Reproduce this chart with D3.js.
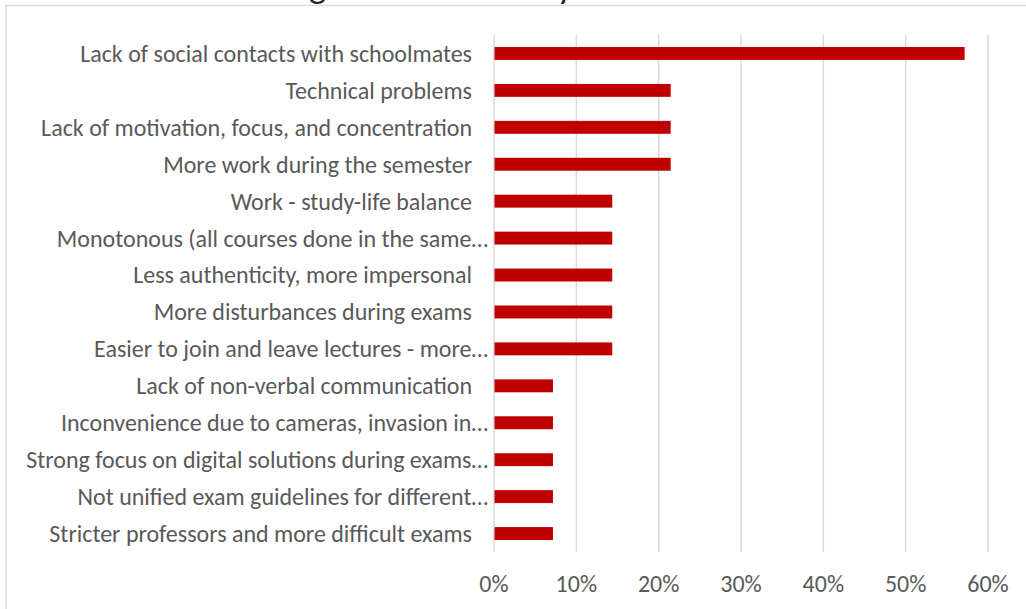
<!DOCTYPE html>
<html lang="en">
<head>
<meta charset="UTF-8">
<title>Disadvantages</title>
<script src="https://cdn.jsdelivr.net/npm/d3@7"></script>
<style>
    body { margin: 0; background: #fff; }
    text { font-family: Calibri, Carlito, Lato, sans-serif; }
</style>
</head>
<body>
<div id="chart"></div>
<script>
var categories = [
    "Lack of social contacts with schoolmates",
    "Technical problems",
    "Lack of motivation, focus, and concentration",
    "More work during the semester",
    "Work - study-life balance",
    "Monotonous (all courses done in the same…",
    "Less authenticity, more impersonal",
    "More disturbances during exams",
    "Easier to join and leave lectures - more…",
    "Lack of non-verbal communication",
    "Inconvenience due to cameras, invasion in…",
    "Strong focus on digital solutions during exams…",
    "Not unified exam guidelines for different…",
    "Stricter professors and more difficult exams"
];
var values = [0.571, 0.214, 0.214, 0.214, 0.143, 0.143, 0.143, 0.143, 0.143, 0.071, 0.071, 0.071, 0.071, 0.071];
var ticks = [0, 0.1, 0.2, 0.3, 0.4, 0.5, 0.6];
var title = "Main drawbacks of online teaching at the university";

var width = 1026, height = 609;
var svg = d3.select("#chart").append("svg")
    .attr("width", width)
    .attr("height", height);

// chart frame (runs off the right and bottom)
svg.append("rect")
    .attr("x", 6).attr("y", 5.5)
    .attr("width", 1040).attr("height", 620)
    .attr("fill", "none")
    .attr("stroke", "#d9d9d9")
    .attr("stroke-width", 1.5);

// title mostly cut off at the top, only descenders show
var t = svg.append("text")
    .attr("y", -2)
    .attr("font-size", 26)
    .attr("fill", "#262626")
    .text(title);
var gi = title.indexOf("teaching") + 7, yi = title.lastIndexOf("y");
var n = t.node();
var gx = n.getStartPositionOfChar(gi).x, yx = n.getStartPositionOfChar(yi).x;
var fs = 26 * 248 / (yx - gx);
t.attr("font-size", fs);
gx = n.getStartPositionOfChar(gi).x;
t.attr("x", 309 - gx);

var x = d3.scaleLinear().domain([0, 0.6]).range([494, 988]);
var y = d3.scaleBand().domain(categories).range([35, 552]).paddingInner(0.65).paddingOuter(0.325);

svg.append("g").selectAll("line")
    .data(ticks)
    .enter().append("line")
    .attr("x1", function(d) { return x(d); })
    .attr("x2", function(d) { return x(d); })
    .attr("y1", 35).attr("y2", 552)
    .attr("stroke", "#d9d9d9")
    .attr("stroke-width", 1.5);

svg.append("g").selectAll("rect")
    .data(values)
    .enter().append("rect")
    .attr("x", x(0) + 0.5)
    .attr("y", function(d, i) { return y(categories[i]); })
    .attr("width", function(d) { return x(d) - x(0); })
    .attr("height", y.bandwidth())
    .attr("fill", "#c00000");

// category labels, sized so the first one spans like the reference
var labels = svg.append("g").selectAll("text")
    .data(categories)
    .enter().append("text")
    .attr("x", function(d) { return d.slice(-1) === "…" ? 488 : 472; })
    .attr("y", function(d) { return y(d) + y.bandwidth() / 2; })
    .attr("dy", "0.35em")
    .attr("text-anchor", "end")
    .attr("font-size", 20)
    .attr("fill", "#595959")
    .text(function(d) { return d; });
var w0 = labels.nodes()[0].getComputedTextLength();
var labelSize = 20 * 392 / w0;
labels.attr("font-size", labelSize);

svg.append("g").selectAll("text")
    .data(ticks)
    .enter().append("text")
    .attr("x", function(d) { return x(d); })
    .attr("y", 584)
    .attr("dy", "0.35em")
    .attr("text-anchor", "middle")
    .attr("font-size", labelSize)
    .attr("fill", "#595959")
    .text(function(d) { return d3.format(".0%")(d); });
</script>
</body>
</html>
